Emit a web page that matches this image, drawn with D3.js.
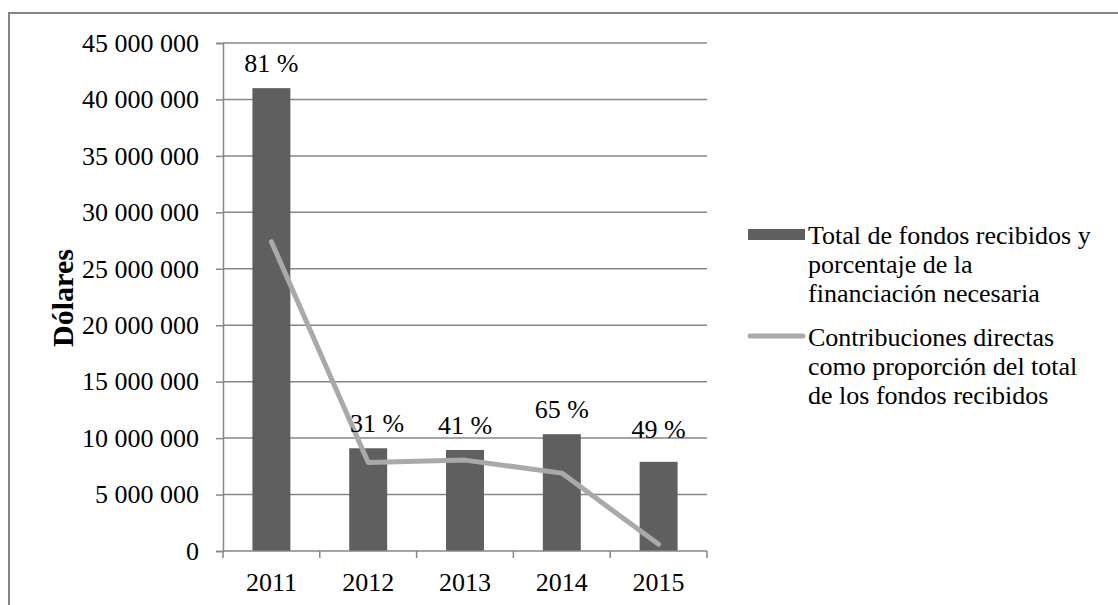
<!DOCTYPE html>
<html><head><meta charset="utf-8">
<script src="https://cdn.jsdelivr.net/npm/d3@7"></script>
<style>
body{margin:0;background:#fff}
svg{display:block}
text{font-family:"Liberation Serif","Times New Roman",serif;fill:#000}
</style>
</head><body>
<svg id="c" width="1118" height="605"></svg>
<script>
// ---- data ----
const years = ["2011", "2012", "2013", "2014", "2015"];
const totalFunds = [41000000, 9100000, 8950000, 10350000, 7900000];
const pctLabels = ["81 %", "31 %", "41 %", "65 %", "49 %"];
const directShare = [27400000, 7850000, 8050000, 6900000, 600000];
const yTicks = [0, 5000000, 10000000, 15000000, 20000000, 25000000, 30000000, 35000000, 40000000, 45000000];
const yTitle = "Dólares";
const legendBars = ["Total de fondos recibidos y", "porcentaje de la", "financiación necesaria"];
const legendLine = ["Contribuciones directas", "como proporción del total", "de los fondos recibidos"];

// ---- layout / style ----
const plot = {l: 223, r: 707, t: 43, b: 551};
const FS = 26;
const gridCol = "#868686", barCol = "#5f5f5f", lineCol = "#a9a9a9";
const labelNudge = [[0,0],[9,0],[0,0],[0,0],[0,-8]];

const svg = d3.select("#c");

// outer border
svg.append("rect").attr("x", 9).attr("y", 13).attr("width", 1200).attr("height", 700)
  .attr("fill", "none").attr("stroke", gridCol).attr("stroke-width", 2);

const x = d3.scaleBand().domain(years).range([plot.l, plot.r]).padding(0);
const y = d3.scaleLinear().domain([0, 45000000]).range([plot.b, plot.t]);
const barW = x.bandwidth() * 0.392;
const fmt = v => d3.format(",")(v).replace(/,/g, " ");

// gridlines
svg.append("g").selectAll("line").data(yTicks.filter(v => v > 0)).join("line")
  .attr("x1", plot.l).attr("x2", plot.r)
  .attr("y1", d => y(d)).attr("y2", d => y(d))
  .attr("stroke", gridCol).attr("stroke-width", 1.5);

// y axis
const ya = svg.append("g").attr("transform", `translate(${plot.l},0)`)
  .call(d3.axisLeft(y).tickValues(yTicks).tickSize(7).tickPadding(17).tickFormat(fmt));
ya.attr("font-family", null);
ya.selectAll("path,line").attr("stroke", gridCol).attr("stroke-width", 1.5);
ya.selectAll("text").attr("font-size", FS).style("font-family", "'Liberation Serif'").attr("fill", "#000");

// bars
svg.append("g").selectAll("rect").data(years).join("rect")
  .attr("x", d => x(d) + x.bandwidth() / 2 - barW / 2)
  .attr("width", barW)
  .attr("y", (d, i) => y(totalFunds[i]))
  .attr("height", (d, i) => y(0) - y(totalFunds[i]))
  .attr("fill", barCol);

// x axis
const xa = svg.append("g").attr("transform", `translate(0,${plot.b})`)
  .call(d3.axisBottom(x).tickSize(0).tickPadding(22));
xa.attr("font-family", null);
xa.select("path").remove();
xa.selectAll("text").attr("font-size", FS).style("font-family", "'Liberation Serif'").attr("fill", "#000");
svg.append("line").attr("x1", plot.l).attr("x2", plot.r).attr("y1", plot.b).attr("y2", plot.b)
  .attr("stroke", gridCol).attr("stroke-width", 1.5);
const bounds = years.map(d => x(d)).concat([x.range()[1]]);
svg.append("g").selectAll("line").data(bounds).join("line")
  .attr("x1", d => d).attr("x2", d => d).attr("y1", plot.b).attr("y2", plot.b + 7)
  .attr("stroke", gridCol).attr("stroke-width", 1.5);

// line
const line = d3.line().x((d, i) => x(years[i]) + x.bandwidth() / 2).y(d => y(d));
svg.append("path").datum(directShare).attr("d", line)
  .attr("fill", "none").attr("stroke", lineCol).attr("stroke-width", 5)
  .attr("stroke-linecap", "round").attr("stroke-linejoin", "round");

// percentage labels
svg.append("g").selectAll("text").data(years).join("text")
  .attr("x", (d, i) => x(d) + x.bandwidth() / 2 + labelNudge[i][0])
  .attr("y", (d, i) => y(totalFunds[i]) - 25 + labelNudge[i][1])
  .attr("dy", "0.35em").attr("text-anchor", "middle").attr("font-size", FS)
  .text((d, i) => pctLabels[i]);

// y title
svg.append("text").attr("transform", "translate(62,298) rotate(-90)")
  .attr("text-anchor", "middle").attr("dy", "0.35em")
  .attr("font-size", 30).attr("font-weight", "bold").text(yTitle);

// legend
const lg = svg.append("g");
lg.append("rect").attr("x", 748).attr("y", 229).attr("width", 57).attr("height", 11).attr("fill", barCol);
lg.append("text").attr("x", 808).attr("y", 235).attr("font-size", FS)
  .selectAll("tspan").data(legendBars).join("tspan")
  .attr("x", 808).attr("dy", (d, i) => i === 0 ? "0.35em" : 29).text(d => d);
lg.append("line").attr("x1", 750).attr("x2", 803).attr("y1", 336).attr("y2", 336)
  .attr("stroke", lineCol).attr("stroke-width", 5).attr("stroke-linecap", "round");
lg.append("text").attr("x", 808).attr("y", 337).attr("font-size", FS)
  .selectAll("tspan").data(legendLine).join("tspan")
  .attr("x", 808).attr("dy", (d, i) => i === 0 ? "0.35em" : 29).text(d => d);
</script>
</body></html>
